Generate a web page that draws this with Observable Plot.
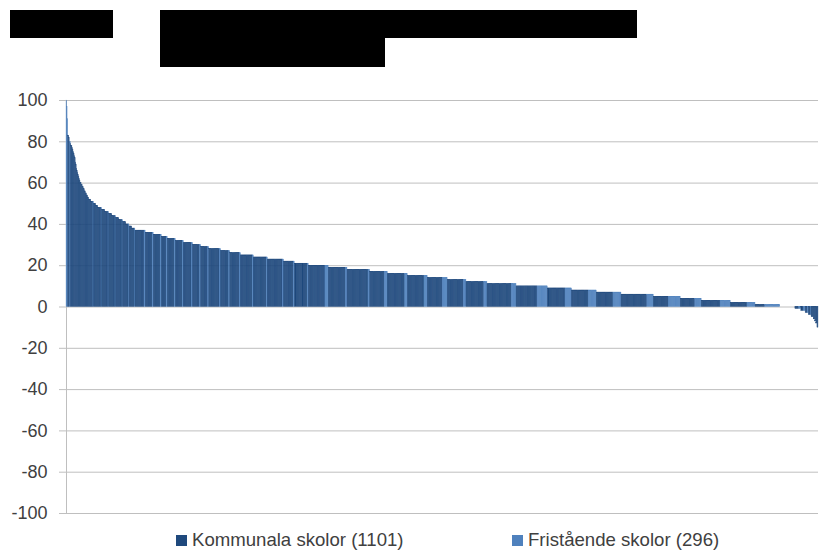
<!DOCTYPE html>
<html><head><meta charset="utf-8">
<script src="https://cdn.jsdelivr.net/npm/d3@7"></script>
<script src="https://cdn.jsdelivr.net/npm/@observablehq/plot@0.6"></script>
<style>
body{margin:0;background:#fff;font-family:"Liberation Sans",Arial,sans-serif;}
#wrap{position:relative;width:831px;height:550px;overflow:hidden;background:#fff}
.redact{position:absolute;background:#000}
#head{height:80px}
#chart svg{display:block}
.lg{position:absolute;top:530px;height:20px;display:flex;align-items:center;font-size:18.6px;color:#404040;white-space:nowrap}
.sw{display:inline-block;width:11px;height:11px;margin-right:5px}
</style></head>
<body>
<div id="wrap">
  <div id="head">
    <div class="redact" style="left:10px;top:10px;width:103px;height:28px"></div>
    <div class="redact" style="left:160px;top:10px;width:477px;height:28px"></div>
    <div class="redact" style="left:160px;top:37px;width:225px;height:30px"></div>
  </div>
  <div id="chart"></div>
  <div class="lg" style="left:176px"><span class="sw" style="background:#1f497d"></span>Kommunala skolor (1101)</div>
  <div class="lg" style="left:512px"><span class="sw" style="background:#4f81bd"></span>Fristående skolor (296)</div>
</div>
<script>
// Sorted school values (percent), with number of schools of each type at that value
const values = [100,97,91,83,82,80,79,78,77,76,75,74,73,72,70,69,67,66,65,64,63,62,61,60,59,58,57,56,55,54,53,52,51,50,49,48,47,46,45,44,43,42,41,40,39,38,
  37,36,35,34,33,32,31,30,29,28,27,26,25,24,23,22,21,
  20,19,18,17,16,15,14,13,12,11,10,9,8,7,6,5,4,3,2,1,0,
  -1,-2,-3,-4,-5,-6,-7,-8,-10];
const kommunalaCounts = [0,0,0,2,1,1,1,2,1,1,1,1,1,1,1,1,1,1,1,1,1,1,1,2,2,2,2,2,2,2,2,4,4,4,4,6,6,6,6,6,6,6,6,5,5,5,
  17,13,13,9,13,13,15,13,13,20,15,18,22,24,28,18,24,
  31,32,39,27,32,31,28,30,33,45,39,33,31,31,48,28,27,35,31,18,14,
  7,5,4,4,4,3,2,2,2];
const fristaendeCounts = [1,1,1,0,0,1,0,0,0,0,0,0,0,0,0,0,0,0,0,0,0,0,0,0,0,0,0,0,0,0,0,0,1,0,0,1,0,1,0,1,0,1,0,1,0,1,
  2,2,2,2,2,2,2,2,2,2,2,2,2,2,2,2,2,
  6,3,3,6,5,6,9,5,6,9,19,12,15,15,12,22,12,19,15,28,14,
  4,3,2,1,0,0,0,0,0];
const seriesNames = ["Kommunala skolor (1101)", "Fristående skolor (296)"];
const seriesColors = ["#1f497d", "#4f81bd"];
const yTicks = [-100,-80,-60,-40,-20,0,20,40,60,80,100];

const bars = [];
values.forEach((v, k) => {
  for (let n = 0; n < kommunalaCounts[k]; n++) bars.push({v, t: seriesNames[0]});
  for (let n = 0; n < fristaendeCounts[k]; n++) bars.push({v, t: seriesNames[1]});
});
bars.forEach((d, i) => { d.i = i; d.j = i + 1; });

const chart = Plot.plot({
  width: 831,
  height: 450,
  marginLeft: 66,
  marginRight: 13,
  marginTop: 20,
  marginBottom: 17,
  style: {fontFamily: '"Liberation Sans", Arial, sans-serif', fontSize: "18px", color: "#404040", background: "#fff"},
  x: {domain: [0, bars.length], axis: null},
  y: {domain: [-100, 100], ticks: yTicks, label: null},
  color: {domain: seriesNames, range: seriesColors},
  marks: [
    Plot.gridY(yTicks, {stroke: "#bfbfbf", strokeOpacity: 1}),
    Plot.ruleX([0], {y1: -100, y2: 100, stroke: "#bfbfbf"}),
    Plot.rect(bars, {x1: "i", x2: "j", y1: d => 0, y2: "v", fill: "t", stroke: "t", strokeWidth: 0.3}),
    Plot.axisY(yTicks, {tickSize: 7, tickPadding: 12, stroke: "#bfbfbf", fill: "#404040", label: null, tickFormat: d => String(d)})
  ]
});
document.getElementById("chart").appendChild(chart);
</script>
</body></html>
